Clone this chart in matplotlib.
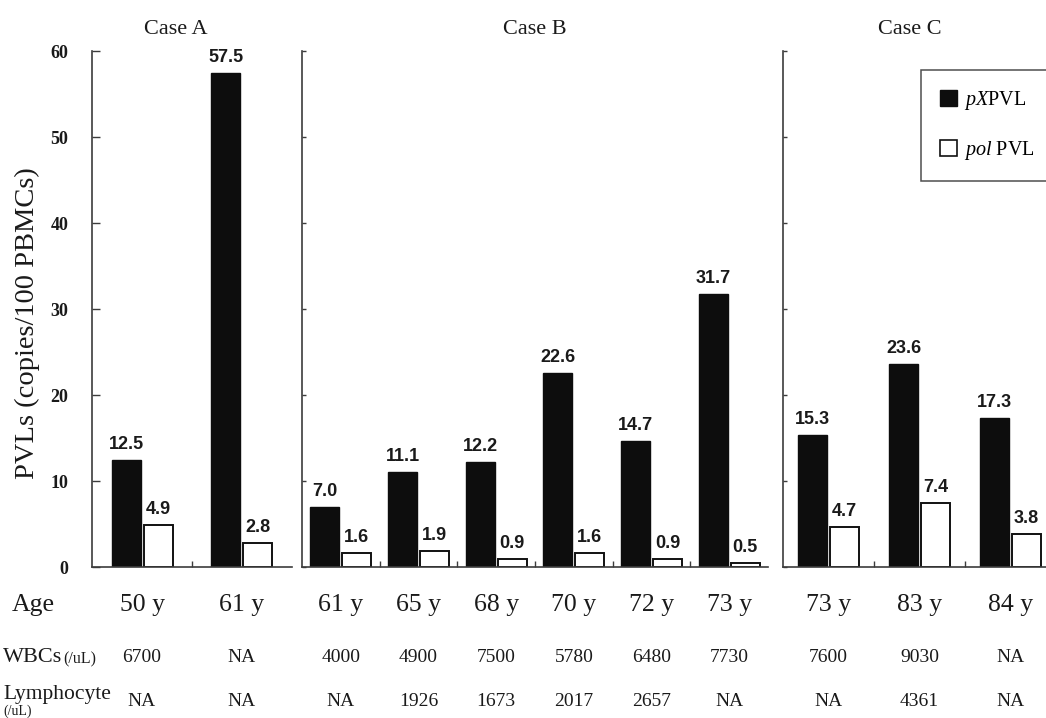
import matplotlib
matplotlib.use("Agg")
import matplotlib.pyplot as plt
from matplotlib.patches import Patch
from matplotlib.transforms import blended_transform_factory

SERIF = "Liberation Serif"
SANS = "Liberation Sans"
INK = "#1a1a1a"
SPINE = "#3c3c3c"

# proviral loads (copies/100 PBMCs) per sample
case_names = ["Case A", "Case B", "Case C"]
px_pvl_a = [12.5, 57.5]
pol_pvl_a = [4.9, 2.8]
px_pvl_b = [7.0, 11.1, 12.2, 22.6, 14.7, 31.7]
pol_pvl_b = [1.6, 1.9, 0.9, 1.6, 0.9, 0.5]
px_pvl_c = [15.3, 23.6, 17.3]
pol_pvl_c = [4.7, 7.4, 3.8]

# clinical table under the bars
age_a = ["50 y", "61 y"]
age_b = ["61 y", "65 y", "68 y", "70 y", "72 y", "73 y"]
age_c = ["73 y", "83 y", "84 y"]
wbc_a = ["6700", "NA"]
wbc_b = ["4000", "4900", "7500", "5780", "6480", "7730"]
wbc_c = ["7600", "9030", "NA"]
lym_a = ["NA", "NA"]
lym_b = ["NA", "1926", "1673", "2017", "2657", "NA"]
lym_c = ["NA", "4361", "NA"]

W, H = 1046, 718


def fx(px):
    return px / W


def fy(py):
    return 1 - py / H


plt.rcParams.update({
    "font.family": SERIF,
    "mathtext.fontset": "custom",
    "mathtext.it": "Liberation Serif:italic",
    "mathtext.rm": "Liberation Serif",
})

fig = plt.figure(figsize=(W / 100, H / 100), dpi=100)
fig.patch.set_facecolor("white")

# panel left edge / width in pixels, bars 29 px wide
panels = [
    (92, 200, px_pvl_a, pol_pvl_a, age_a, wbc_a, lym_a, 176),
    (302, 466, px_pvl_b, pol_pvl_b, age_b, wbc_b, lym_b, 535),
    (783, 273, px_pvl_c, pol_pvl_c, age_c, wbc_c, lym_c, 910),
]
y0_px, y60_px = 567, 51

for k, (left, width, pxv, polv, ages, wbcs, lyms, title_x) in enumerate(panels):
    n = len(pxv)
    ax = fig.add_axes([fx(left), fy(y0_px), width / W, (y0_px - y60_px) / H])
    step = width / n
    bw = 29 / step
    off = 16 / step
    xs = list(range(n))
    ax.bar([x - off for x in xs], pxv, bw, color="#0d0d0d", edgecolor="#0d0d0d", linewidth=1)
    ax.bar([x + off for x in xs], polv, bw, color="white", edgecolor="#111111", linewidth=1.4)
    for x, v in zip(xs, pxv):
        ax.annotate(f"{v:.1f}", (x - off, v), xytext=(0, 5), textcoords="offset points",
                    ha="center", va="bottom", fontsize=13, fontweight="bold",
                    family=SANS, color=INK, annotation_clip=False)
    for x, v in zip(xs, polv):
        ax.annotate(f"{v:.1f}", (x + off, v), xytext=(0, 5), textcoords="offset points",
                    ha="center", va="bottom", fontsize=13, fontweight="bold",
                    family=SANS, color=INK, annotation_clip=False)

    ax.set_xlim(-0.5, n - 0.5)
    ax.set_ylim(0, 60)
    ax.set_yticks(range(0, 61, 10))
    ax.set_xticks([])
    ax.set_xticks([i + 0.5 for i in range(n - 1)], minor=True)
    ax.tick_params(axis="x", which="minor", direction="in", length=4, width=1, color=SPINE)
    for s in ("top", "right"):
        ax.spines[s].set_visible(False)
    for s in ("left", "bottom"):
        ax.spines[s].set_color(SPINE)
        ax.spines[s].set_linewidth(1.2)
    if k == 0:
        ax.tick_params(axis="y", direction="in", length=6, width=1, color=SPINE, pad=17,
                       labelsize=13)
        for lab in ax.get_yticklabels():
            lab.set_fontweight("bold")
            lab.set_color(INK)
    else:
        ax.tick_params(axis="y", direction="in", length=3, width=1, color=SPINE,
                       labelleft=False)

    fig.text(fx(title_x), fy(30), case_names[k], ha="center", va="center",
             fontsize=16, color=INK)

    tr = blended_transform_factory(ax.transData, fig.transFigure)
    for x, a, w, l in zip(xs, ages, wbcs, lyms):
        ax.text(x, fy(605), a, transform=tr, ha="center", va="center",
                fontsize=18.5, color=INK)
        ax.text(x, fy(657), w, transform=tr, ha="center", va="center",
                fontsize=14, color=INK)
        ax.text(x, fy(701), l, transform=tr, ha="center", va="center",
                fontsize=14, color=INK)

# row headers
fig.text(fx(12), fy(605), "Age", ha="left", va="center", fontsize=18.5, color=INK)
fig.text(fx(3), fy(658), "WBCs", ha="left", va="center", fontsize=16, color=INK)
fig.text(fx(63), fy(659), "(/uL)", ha="left", va="center", fontsize=11.5, color=INK)
fig.text(fx(3), fy(694), "Lymphocyte", ha="left", va="center", fontsize=15.5, color=INK)
fig.text(fx(3), fy(711), "(/uL)", ha="left", va="center", fontsize=10, color=INK)

fig.text(fx(27), fy(323), "PVLs (copies/100 PBMCs)", rotation=90, ha="center",
         va="center", fontsize=20.5, color=INK)

handles = [Patch(facecolor="#0d0d0d", edgecolor="#0d0d0d"),
           Patch(facecolor="white", edgecolor="#111111", linewidth=1.2)]
leg = fig.legend(handles, [r"$pX$PVL", r"$pol$ PVL"], loc="upper left",
                 bbox_to_anchor=(fx(921), fy(70)), frameon=True, fancybox=False,
                 edgecolor="#222222", prop={"family": SERIF, "size": 14.5},
                 handlelength=0.85, handleheight=0.85, handletextpad=0.35,
                 labelspacing=1.35, borderpad=0.95, borderaxespad=0)
leg.get_frame().set_linewidth(1.1)

fig.savefig("out.png", dpi=100, facecolor="white")
